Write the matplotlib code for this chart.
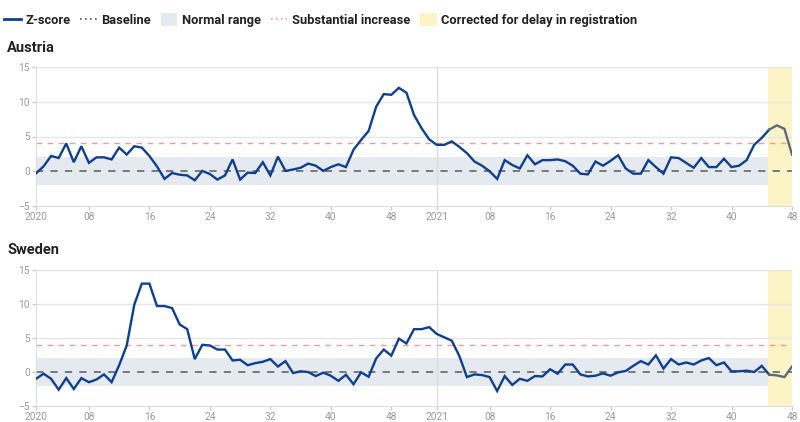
import matplotlib
matplotlib.use("Agg")
import matplotlib.pyplot as plt
from matplotlib.lines import Line2D
from matplotlib.patches import Patch
import numpy as np

plt.rcParams['font.family'] = ['Roboto', 'DejaVu Sans']

# ISO weeks: 2020 has 53 weeks, 2021 shown through week 48
weeks = [f"2020-W{w:02d}" for w in range(1, 54)] + [f"2021-W{w:02d}" for w in range(1, 49)]

tick_weeks = ["2020-W01", "2020-W08", "2020-W16", "2020-W24", "2020-W32", "2020-W40", "2020-W48",
              "2021-W01", "2021-W08", "2021-W16", "2021-W24", "2021-W32", "2021-W40", "2021-W48"]
tick_labels = ["2020", "08", "16", "24", "32", "40", "48",
               "2021", "08", "16", "24", "32", "40", "48"]
year_break = "2021-W01"
corrected_from = "2021-W45"

baseline = 0
normal_low, normal_high = -2, 2
substantial = 4

austria_z = [
    -0.3, 0.7, 2.2, 1.9, 4.0, 1.3, 3.6, 1.2, 2.0, 2.0,
    1.7, 3.4, 2.4, 3.6, 3.4, 2.2, 0.7, -1.1, -0.25, -0.5,
    -0.6, -1.3, 0.05, -0.4, -1.2, -0.6, 1.7, -1.2, -0.2, -0.25,
    1.3, -0.6, 2.1, 0.05, 0.25, 0.5, 1.1, 0.8, 0.05, 0.6,
    1.0, 0.6, 3.1, 4.5, 5.8, 9.3, 11.1, 11.0, 12.0, 11.3,
    8.1, 6.2, 4.6,
    3.8, 3.8, 4.3, 3.5, 2.6, 1.4, 0.8, 0.0, -1.1, 1.6,
    0.9, 0.4, 2.3, 1.0, 1.6, 1.6, 1.7, 1.45, 0.8, -0.35,
    -0.45, 1.4, 0.8, 1.5, 2.3, 0.4, -0.35, -0.35, 1.6, 0.6,
    -0.35, 2.0, 1.9, 1.2, 0.5, 1.9, 0.6, 0.6, 1.8, 0.6,
    0.8, 1.6, 3.8, 4.8, 6.0, 6.6, 6.1, 2.4,
]

sweden_z = [
    -1.0, -0.25, -1.0, -2.6, -0.9, -2.5, -0.9, -1.5, -1.1, -0.35,
    -1.5, 1.0, 3.9, 9.9, 13.0, 13.0, 9.7, 9.7, 9.4, 7.0,
    6.3, 1.9, 4.0, 3.9, 3.3, 3.3, 1.7, 1.8, 1.0, 1.3,
    1.5, 1.9, 0.8, 1.6, -0.15, 0.1, 0.0, -0.6, -0.1, -0.55,
    -1.3, -0.4, -1.8, -0.05, -0.7, 2.0, 3.3, 2.4, 4.9, 4.2,
    6.3, 6.3, 6.6,
    5.6, 5.1, 4.6, 2.35, -0.75, -0.35, -0.45, -0.75, -2.8, -0.6,
    -1.9, -1.0, -1.3, -0.6, -0.65, 0.4, -0.25, 1.1, 1.1, -0.35,
    -0.65, -0.55, -0.2, -0.55, -0.05, 0.15, 0.9, 1.6, 1.1, 2.45,
    0.5, 1.9, 1.1, 1.4, 1.1, 1.7, 2.05, 1.0, 1.4, 0.1,
    0.1, 0.2, 0.0, 0.9, -0.4, -0.5, -0.75, 0.8,
]

countries = ["Austria", "Sweden"]
series = [austria_z, sweden_z]

BLUE = "#0f3f8f"
GREY_LINE = "#5d6b78"
BAND = "#e4eaf0"
YELLOW = "#fcf3c6"
RED = "#f29a9a"
BASE = "#707070"
TICK = "#9a9a9a"
GRID = "#e6e6e6"

W, H = 800, 422
fig = plt.figure(figsize=(W / 100, H / 100), dpi=100)

def frac_x(px):
    return px / W

def frac_y(py):
    return 1 - py / H

panels = [(67, 206, 48), (270, 406, 250)]  # top px, bottom px, title y px
x = np.arange(len(weeks))
i_corr = weeks.index(corrected_from)
i_break = weeks.index(year_break)
tick_pos = [weeks.index(t) for t in tick_weeks]

for (top, bot, ty), name, z in zip(panels, countries, series):
    ax = fig.add_axes([frac_x(36), frac_y(bot), frac_x(792) - frac_x(36), frac_y(top) - frac_y(bot)])
    ax.set_xlim(0, len(weeks) - 1)
    ax.set_ylim(-5, 15)
    ax.axhspan(normal_low, normal_high, color=BAND, zorder=0, lw=0)
    ax.axvspan(i_corr - 0.2, len(weeks) - 1, color=YELLOW, zorder=0.5, lw=0)
    for yv in [5, 10, 15]:
        ax.axhline(yv, color=GRID, lw=1, zorder=0.6)
    ax.axvline(i_break, color="#dcdcdc", lw=1, zorder=0.6)
    ax.axhline(substantial, color=RED, lw=1, ls=(0, (4, 4)), zorder=1)
    ax.axhline(baseline, color=BASE, lw=1.3, ls=(0, (4, 4)), zorder=1)
    z = np.array(z)
    ax.plot(x[:i_corr + 1], z[:i_corr + 1], color=BLUE, lw=1.7, zorder=3,
            solid_joinstyle="miter")
    ax.plot(x[i_corr:], z[i_corr:], color=GREY_LINE, lw=1.7, zorder=3)
    ax.set_xticks(tick_pos)
    ax.set_xticklabels(tick_labels)
    ax.set_yticks([-5, 0, 5, 10, 15])
    ax.tick_params(axis="both", colors="#cccccc", labelcolor=TICK, labelsize=7.3,
                   length=3, width=1, pad=1.5)
    for s in ["top", "right"]:
        ax.spines[s].set_visible(False)
    for s in ["left", "bottom"]:
        ax.spines[s].set_color("#dddddd")
    ax.patch.set_alpha(0)
    fig.text(frac_x(7), frac_y(ty), name, fontsize=10.5, fontweight="bold",
             color="#222222", va="center", ha="left")

handles = [
    Line2D([], [], color=BLUE, lw=2),
    Line2D([], [], color="#555555", lw=1.2, ls=(0, (1, 2))),
    Patch(facecolor=BAND, edgecolor="none"),
    Line2D([], [], color=RED, lw=1.2, ls=(0, (1, 2))),
    Patch(facecolor=YELLOW, edgecolor="none"),
]
labels = ["Z-score", "Baseline", "Normal range", "Substantial increase",
          "Corrected for delay in registration"]
leg = fig.legend(handles, labels, loc="center left", bbox_to_anchor=(0.0, frac_y(20)),
                 ncol=5, frameon=False, handlelength=1.3, handleheight=1.1,
                 handletextpad=0.35, columnspacing=0.75, borderaxespad=0,
                 borderpad=0.3, prop={"size": 9.3, "weight": "semibold"})
for t in leg.get_texts():
    t.set_color("#222222")

fig.savefig("out.png", dpi=100)
